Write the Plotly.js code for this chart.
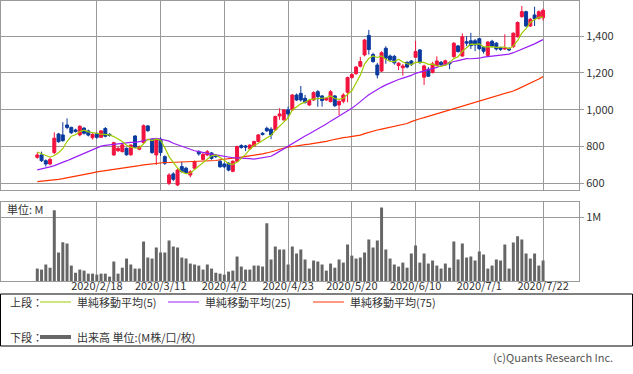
<!DOCTYPE html>
<html>
<head>
<meta charset="utf-8">
<script src="https://cdn.plot.ly/plotly-3.0.1.min.js"></script>
<style>html,body{margin:0;padding:0;background:#fff;}#chart{width:633px;height:374px;}</style>
</head>
<body>
<div id="chart"></div>
<script>
// ---- data ----
const dates = ['2020/1/28','2020/1/29','2020/1/30','2020/1/31','2020/2/3','2020/2/4','2020/2/5','2020/2/6','2020/2/7','2020/2/10',
'2020/2/12','2020/2/13','2020/2/14','2020/2/17','2020/2/18','2020/2/19','2020/2/20','2020/2/21','2020/2/25','2020/2/26',
'2020/2/27','2020/2/28','2020/3/2','2020/3/3','2020/3/4','2020/3/5','2020/3/6','2020/3/9','2020/3/10','2020/3/11',
'2020/3/12','2020/3/13','2020/3/16','2020/3/17','2020/3/18','2020/3/19','2020/3/23','2020/3/24','2020/3/25','2020/3/26',
'2020/3/27','2020/3/30','2020/3/31','2020/4/1','2020/4/2','2020/4/3','2020/4/6','2020/4/7','2020/4/8','2020/4/9',
'2020/4/10','2020/4/13','2020/4/14','2020/4/15','2020/4/16','2020/4/17','2020/4/20','2020/4/21','2020/4/22','2020/4/23',
'2020/4/24','2020/4/27','2020/4/28','2020/4/30','2020/5/1','2020/5/7','2020/5/8','2020/5/11','2020/5/12','2020/5/13',
'2020/5/14','2020/5/15','2020/5/18','2020/5/19','2020/5/20','2020/5/21','2020/5/22','2020/5/25','2020/5/26','2020/5/27',
'2020/5/28','2020/5/29','2020/6/1','2020/6/2','2020/6/3','2020/6/4','2020/6/5','2020/6/8','2020/6/9','2020/6/10',
'2020/6/11','2020/6/12','2020/6/15','2020/6/16','2020/6/17','2020/6/18','2020/6/19','2020/6/22','2020/6/23','2020/6/24',
'2020/6/25','2020/6/26','2020/6/29','2020/6/30','2020/7/1','2020/7/2','2020/7/3','2020/7/6','2020/7/7','2020/7/8',
'2020/7/9','2020/7/10','2020/7/13','2020/7/14','2020/7/15','2020/7/16','2020/7/17','2020/7/20','2020/7/21','2020/7/22'];

const open = [741,754,723,705,767,868,863,917,904,890, 863,900,885,848,870,850,898,866,754,777,
772,790,755,857,785,821,912,839,754,839, 745,600,651,591,691,682,645,682,772,730,
754,765,752,720,705,709,665,720,805,803, 788,803,827,872,899,894,890,966,945,999,
999,1080,1089,1062,1026,1053,1098,1075,1053,1044, 1075,1026,1046,1095,1175,1196,1236,1298,1404,1300,
1243,1210,1334,1292,1290,1240,1228,1258,1265,1285, 1325,1177,1220,1202,1240,1258,1244,1255,1289,1347,
1292,1370,1375,1375,1386,1338,1295,1372,1362,1337, 1330,1332,1343,1397,1506,1533,1455,1515,1497,1500];

const high = [769,772,730,741,877,874,932,953,908,897, 916,905,892,872,878,890,906,872,826,800,
815,795,812,862,805,920,916,845,845,850, 752,655,660,680,718,690,672,724,780,765,
781,770,760,728,712,715,725,805,812,808, 812,832,868,878,908,905,968,1008,1004,1017,
1085,1088,1129,1080,1055,1100,1107,1080,1068,1107, 1080,1050,1090,1180,1198,1238,1288,1385,1434,1310,
1255,1318,1345,1300,1298,1258,1248,1262,1270,1374, 1330,1245,1232,1260,1290,1265,1272,1262,1368,1352,
1415,1400,1418,1385,1390,1345,1372,1380,1368,1342, 1410,1340,1420,1480,1564,1538,1498,1560,1540,1550];

const low = [734,716,691,698,759,821,826,894,868,876, 855,865,855,838,842,846,850,854,750,770,
768,750,750,790,780,815,880,760,700,749, 700,590,612,585,658,652,633,676,750,725,
748,728,738,684,682,665,660,715,788,775, 782,798,822,860,880,840,885,945,940,955,
995,1048,1044,1033,1020,1048,1016,1017,1048,1040, 1015,971,1035,1040,1168,1190,1230,1290,1300,1255,
1170,1205,1250,1265,1245,1215,1185,1225,1238,1282, 1250,1135,1178,1198,1235,1240,1238,1220,1282,1310,
1288,1345,1330,1318,1325,1305,1290,1338,1322,1320, 1325,1318,1335,1392,1500,1450,1450,1455,1490,1485];

const close = [754,723,705,730,845,826,832,904,875,882, 910,872,862,866,850,885,856,860,821,790,
809,755,808,796,799,913,886,767,839,767, 709,645,622,672,663,658,663,718,760,758,
772,735,745,690,690,672,720,800,795,797, 808,827,863,865,885,863,963,977,999,977,
1080,1053,1053,1040,1050,1093,1071,1050,1062,1098, 1022,1046,1080,1175,1192,1232,1262,1379,1327,1262,
1189,1310,1280,1271,1255,1253,1238,1232,1245,1316, 1256,1238,1182,1249,1265,1246,1266,1250,1361,1316,
1397,1362,1348,1352,1332,1318,1368,1345,1330,1328, 1334,1325,1416,1474,1533,1455,1492,1495,1533,1540];

const ma5 = [770,760,748,742,751,766,788,827,856,864, 881,889,880,878,872,867,864,863,854,842,
827,807,797,792,793,814,840,832,841,834, 794,745,716,683,662,652,656,675,692,711,
734,749,754,740,726,706,703,714,735,757, 784,805,818,832,850,861,888,911,937,956,
999,1017,1032,1041,1055,1058,1061,1061,1065,1075, 1061,1056,1062,1084,1103,1145,1188,1248,1278,1292,
1284,1293,1274,1262,1261,1274,1259,1250,1245,1257, 1257,1257,1247,1248,1238,1236,1242,1255,1278,1288,
1318,1337,1357,1355,1358,1342,1344,1343,1339,1338, 1341,1332,1347,1375,1416,1441,1474,1490,1502,1503];

const ma25 = [673,677,682,689,696,704,713,723,733,743, 754,764,775,786,796,802,806,809,813,816,
818,820,822,823,825,831,837,840,844,841, 837,829,818,810,801,791,782,777,772,769,
764,759,755,750,746,740,739,738,738,738, 734,732,736,737,741,747,760,774,787,800,
817,832,846,857,869,882,895,907,922,938, 952,965,977,992,1008,1025,1042,1063,1081,1096,
1109,1123,1135,1146,1157,1164,1172,1179,1187,1198, 1204,1211,1216,1224,1230,1239,1248,1255,1262,1267,
1274,1278,1277,1278,1280,1286,1288,1290,1293,1296, 1299,1302,1310,1319,1328,1336,1346,1358,1370,1381];

const ma75 = [609,611,613,615,618,621,625,629,633,637, 642,647,652,657,662,665,668,671,674,677,
680,684,688,692,696,700,703,706,709,711, 713,713,714,714,715,715,716,716,717,717,
718,720,724,728,732,735,737,740,742,745, 748,751,755,760,765,770,777,785,792,797,
800,802,805,810,813,816,818,823,828,834, 840,844,848,851,854,858,862,870,878,884,
890,895,900,904,908,912,918,925,935,945, 951,957,964,971,978,985,992,999,1006,1013,
1020,1026,1032,1038,1044,1051,1058,1065,1072,1080, 1087,1095,1102,1112,1123,1133,1143,1153,1167,1180];

// volume in millions
const volume = [0.196,0.18,0.26,0.21,1.116,0.45,0.61,0.59,0.243,0.13, 0.18,0.164,0.116,0.116,0.10,0.116,0.116,0.069,0.307,0.116,
0.21,0.354,0.26,0.196,0.196,0.624,0.37,0.354,0.53,0.45, 0.45,0.64,0.545,0.53,0.37,0.354,0.275,0.26,0.243,0.18,
0.26,0.196,0.13,0.116,0.10,0.148,0.164,0.386,0.228,0.18, 0.18,0.243,0.243,0.228,0.91,0.339,0.545,0.497,0.497,0.26,
0.545,0.434,0.497,0.339,0.196,0.323,0.307,0.26,0.164,0.275, 0.21,0.339,0.29,0.577,0.40,0.354,0.37,0.45,0.656,0.53,
0.64,1.16,0.497,0.354,0.26,0.228,0.29,0.21,0.434,0.56, 0.29,0.434,0.275,0.323,0.243,0.196,0.275,0.21,0.624,0.339,
0.593,0.37,0.386,0.323,0.466,0.418,0.196,0.243,0.339,0.323, 0.577,0.196,0.608,0.704,0.656,0.434,0.354,0.434,0.243,0.323];

const tickLabels = ['2020/2/18','2020/3/11','2020/4/2','2020/4/23','2020/5/20','2020/6/10','2020/7/1','2020/7/22'];
const priceTicks = [600,800,1000,1200,1400];

// ---- chart ----
const idx = dates.map((d, i) => i);
const tickPos = tickLabels.map(t => dates.indexOf(t));
const FONT = '"Noto Sans CJK JP", "Noto Sans", sans-serif';
const RED = '#f2133f', BLUE = '#0a3a9e';
const GRID = '#9a9a9a';

const traces = [
  {type:'candlestick', x:idx, open:open, high:high, low:low, close:close, xaxis:'x', yaxis:'y',
   increasing:{line:{color:RED, width:1}, fillcolor:RED},
   decreasing:{line:{color:BLUE, width:1}, fillcolor:BLUE},
   whiskerwidth:0, hoverinfo:'skip'},
  {type:'scatter', mode:'lines', x:idx, y:ma75, line:{color:'#ff3300', width:1.2}, xaxis:'x', yaxis:'y', hoverinfo:'skip'},
  {type:'scatter', mode:'lines', x:idx, y:ma25, line:{color:'#9a1ff5', width:1.2}, xaxis:'x', yaxis:'y', hoverinfo:'skip'},
  {type:'scatter', mode:'lines', x:idx, y:ma5, line:{color:'#9fcc00', width:1.2}, xaxis:'x', yaxis:'y', hoverinfo:'skip'},
  {type:'bar', x:idx, y:volume, marker:{color:'#666666', line:{width:0}}, xaxis:'x2', yaxis:'y2', hoverinfo:'skip'}
];

const L = 1, R = 54, T = 1, B = 93, W = 633, H = 374;
const pw = W - L - R, ph = H - T - B;
const px = x => (x - L) / pw;
const py = y => (H - B - y) / ph;

const xRange = [-8.54, 127.45];
const axX = {
  range: xRange, tickvals: tickPos, ticktext: tickLabels, showgrid: true, gridcolor: GRID, gridwidth: 1,
  showline: true, mirror: true, linecolor: GRID, linewidth: 1, zeroline: false, ticks: '', fixedrange: true
};

const layout = {
  width: W, height: H,
  margin: {l: L, r: R, t: T, b: B, pad: 0},
  paper_bgcolor: '#ffffff', plot_bgcolor: '#ffffff',
  showlegend: false,
  font: {family: FONT, size: 11, color: '#333333'},
  boxgap: 0.3, boxgroupgap: 0,
  bargap: 0.3,
  xaxis: Object.assign({}, axX, {anchor: 'y', showticklabels: false, rangeslider: {visible: false}}),
  xaxis2: Object.assign({}, axX, {anchor: 'y2', showticklabels: true, ticklabelstandoff: -5,
    tickfont: {family: FONT, size: 11, color: '#333'}}),
  yaxis: {
    domain: [py(190.3), 1], range: [562, 1591], side: 'right', tickvals: priceTicks, tickformat: ',d',
    ticks: 'outside', ticklen: 4, tickcolor: GRID, showgrid: true, gridcolor: GRID, gridwidth: 1,
    showline: true, mirror: true, linecolor: GRID, zeroline: false, tickfont: {family: FONT, size: 11, color: '#333'}
  },
  yaxis2: {
    domain: [0, py(201.7)], range: [0, 1.25], side: 'right', tickvals: [1], ticktext: ['1M'],
    ticks: 'outside', ticklen: 4, tickcolor: GRID, showgrid: true, gridcolor: GRID, gridwidth: 1,
    showline: true, mirror: true, linecolor: GRID, zeroline: false, tickfont: {family: FONT, size: 11, color: '#333'}
  },
  shapes: [
    {type: 'rect', xref: 'paper', yref: 'paper', x0: px(0.5), x1: px(632.5), y0: py(294), y1: py(346), line: {color: '#000', width: 1}},
    {type: 'line', xref: 'paper', yref: 'paper', x0: px(40), x1: px(71), y0: py(302), y1: py(302), line: {color: '#9fcc00', width: 1}},
    {type: 'line', xref: 'paper', yref: 'paper', x0: px(168), x1: px(199), y0: py(302), y1: py(302), line: {color: '#9a1ff5', width: 1}},
    {type: 'line', xref: 'paper', yref: 'paper', x0: px(313), x1: px(344), y0: py(302), y1: py(302), line: {color: '#ff3300', width: 1}},
    {type: 'line', xref: 'paper', yref: 'paper', x0: px(40), x1: px(71), y0: py(337), y1: py(337), line: {color: '#666', width: 4}}
  ],
  annotations: [
    {text: '単位: M', xref: 'paper', yref: 'paper', x: px(5), y: py(209), xanchor: 'left', yanchor: 'middle', showarrow: false, font: {size: 11, color: '#333'}},
    {text: '上段：', xref: 'paper', yref: 'paper', x: px(8), y: py(302), xanchor: 'left', yanchor: 'middle', showarrow: false, font: {size: 11, color: '#333'}},
    {text: '単純移動平均(5)', xref: 'paper', yref: 'paper', x: px(75), y: py(302), xanchor: 'left', yanchor: 'middle', showarrow: false, font: {size: 11, color: '#333'}},
    {text: '単純移動平均(25)', xref: 'paper', yref: 'paper', x: px(203), y: py(302), xanchor: 'left', yanchor: 'middle', showarrow: false, font: {size: 11, color: '#333'}},
    {text: '単純移動平均(75)', xref: 'paper', yref: 'paper', x: px(348), y: py(302), xanchor: 'left', yanchor: 'middle', showarrow: false, font: {size: 11, color: '#333'}},
    {text: '下段：', xref: 'paper', yref: 'paper', x: px(8), y: py(337), xanchor: 'left', yanchor: 'middle', showarrow: false, font: {size: 11, color: '#333'}},
    {text: '出来高 単位:(M株/口/枚)', xref: 'paper', yref: 'paper', x: px(75), y: py(337), xanchor: 'left', yanchor: 'middle', showarrow: false, font: {size: 11, color: '#333'}},
    {text: '(c)Quants Research Inc.', xref: 'paper', yref: 'paper', x: px(615), y: py(357), xanchor: 'right', yanchor: 'middle', showarrow: false, font: {size: 11, color: '#555'}}
  ]
};

Plotly.newPlot('chart', traces, layout, {staticPlot: true, displayModeBar: false});
</script>
</body>
</html>
